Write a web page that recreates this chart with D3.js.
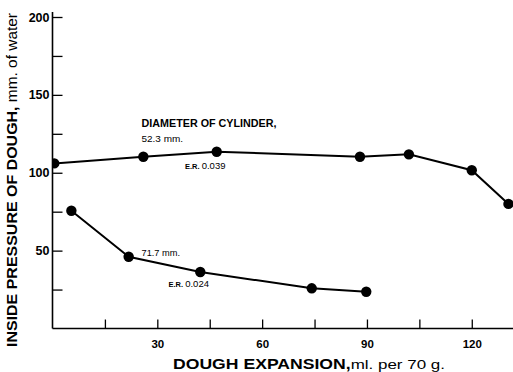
<!DOCTYPE html>
<html><head><meta charset="utf-8">
<script src="https://cdn.jsdelivr.net/npm/d3@7"></script>
<style>
html,body{margin:0;padding:0;background:#fff;}
svg{display:block;font-family:"Liberation Sans",Arial,sans-serif;}
</style></head>
<body>
<svg id="c" width="513" height="372"></svg>
<script>
// Data
const series523 = [
  {x: 0.5, y: 106}, {x: 26, y: 110.3}, {x: 47, y: 113.5}, {x: 88, y: 110.3},
  {x: 102, y: 111.8}, {x: 120, y: 101.6}, {x: 130.5, y: 80}
];
const series717 = [
  {x: 5.4, y: 75.6}, {x: 21.8, y: 46.1}, {x: 42.3, y: 36.3}, {x: 74.2, y: 25.8}, {x: 89.8, y: 23.6}
];
const xTicks = [15, 30, 45, 60, 75, 90, 105, 120];
const xTickLabels = [30, 60, 90, 120];
const yTicks = [25, 50, 75, 100, 125, 150, 175, 200];
const yTickLabels = [50, 100, 150, 200];

const svg = d3.select("#c");
const x = d3.scaleLinear().domain([0, 131.8]).range([52.5, 513]);
const y = d3.scaleLinear().domain([0, 200]).range([328.5, 17]);

// clip to plot area (first dot is half hidden at the axis)
svg.append("clipPath").attr("id", "plot").append("rect")
  .attr("x", 52.5).attr("y", 0).attr("width", 470).attr("height", 328.5);

// axes
const yAxis = d3.axisLeft(y).tickValues(yTicks).tickSizeInner(-10).tickSizeOuter(0).tickPadding(3)
  .tickFormat(d => yTickLabels.includes(d) ? d : "");
const gy = svg.append("g").attr("transform", `translate(${x(0)},0)`).call(yAxis);
gy.select(".domain").remove();
gy.selectAll("line").attr("stroke", "#000").attr("stroke-width", 1.3);
gy.selectAll("text").attr("font-size", 12.5).attr("font-weight", "bold").attr("fill", "#000");

const xAxis = d3.axisBottom(x).tickValues(xTicks).tickSizeInner(-9).tickSizeOuter(0).tickPadding(11)
  .tickFormat(d => xTickLabels.includes(d) ? d : "");
const gx = svg.append("g").attr("transform", `translate(0,${y(0)})`).call(xAxis);
gx.select(".domain").remove();
gx.selectAll("line").attr("stroke", "#000").attr("stroke-width", 1.3);
gx.selectAll("text").attr("font-size", 11.5).attr("font-weight", "bold").attr("fill", "#000");

// axis lines
svg.append("line").attr("x1", x(0)).attr("x2", x(0)).attr("y1", 12).attr("y2", y(0))
  .attr("stroke", "#000").attr("stroke-width", 1.6);
svg.append("line").attr("x1", x(0)).attr("x2", 513).attr("y1", y(0)).attr("y2", y(0))
  .attr("stroke", "#000").attr("stroke-width", 1.6);

// series
const line = d3.line().x(d => x(d.x)).y(d => y(d.y));
const plot = svg.append("g").attr("clip-path", "url(#plot)");
[series523, series717].forEach(s => {
  plot.append("path").datum(s).attr("d", line).attr("fill", "none")
    .attr("stroke", "#000").attr("stroke-width", 2);
  plot.selectAll(null).data(s).enter().append("circle")
    .attr("cx", d => x(d.x)).attr("cy", d => y(d.y)).attr("r", 5.2).attr("fill", "#000");
});

// annotations
function txt(xp, yp, str, size, weight, len) {
  const t = svg.append("text").attr("x", xp).attr("y", yp).attr("font-size", size)
    .attr("font-weight", weight).attr("fill", "#000").text(str);
  if (len) t.attr("textLength", len).attr("lengthAdjust", "spacingAndGlyphs");
  return t;
}
txt(141.5, 127.3, "DIAMETER OF CYLINDER,", 11, "bold", 135);
txt(141.5, 141.7, "52.3 mm.", 9, "normal", 41.5);
function er(xp, yp, val) {
  const t = svg.append("text").attr("x", xp).attr("y", yp).attr("fill", "#000");
  t.append("tspan").attr("font-size", 7.5).attr("font-weight", "bold").text("E.R. ");
  t.append("tspan").attr("font-size", 9.5).text(val);
}
er(185, 168.5, "0.039");
txt(141.5, 256, "71.7 mm.", 9, "normal", 38.5);
er(168.5, 287, "0.024");

// axis titles
const xt = svg.append("text").attr("x", 173).attr("y", 369).attr("fill", "#000")
  .attr("textLength", 272).attr("lengthAdjust", "spacingAndGlyphs");
xt.append("tspan").attr("font-size", 14).attr("font-weight", "bold").text("DOUGH  EXPANSION,");
xt.append("tspan").attr("font-size", 13.5).text("ml. per 70 g.");

const yt = svg.append("text").attr("transform", "translate(17,347) rotate(-90)")
  .attr("x", 0).attr("y", 0).attr("fill", "#000")
  .attr("textLength", 334).attr("lengthAdjust", "spacingAndGlyphs");
yt.append("tspan").attr("font-size", 14.5).attr("font-weight", "bold").text("INSIDE  PRESSURE OF DOUGH,");
yt.append("tspan").attr("font-size", 14).text(" mm. of water");
</script>
</body></html>
